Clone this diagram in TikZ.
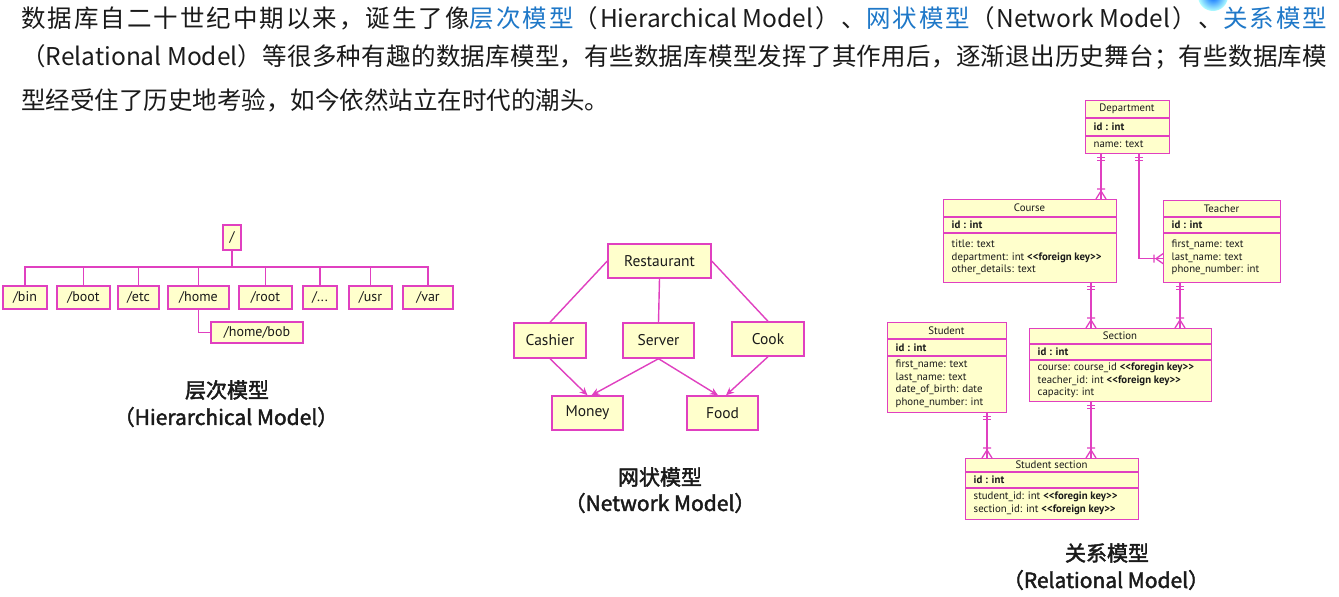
\documentclass[tikz,border=0pt]{standalone}
\usepackage{fontspec}
\setmainfont{Noto Sans CJK SC}
\newfontfamily\cjk{Noto Sans CJK SC}
\newfontfamily\capf{Noto Sans CJK SC}[FakeBold=2]
\newfontfamily\lab{PT Sans}
\usetikzlibrary{arrows.meta,calc}
\definecolor{mag}{HTML}{E040C0}
\definecolor{boxfill}{HTML}{FFFFCC}
\definecolor{blu}{HTML}{1F78C8}
\definecolor{txt}{HTML}{1A1A1A}
% stretchable glue between CJK characters (for justified lines)
\XeTeXinterchartokenstate=1
\newXeTeXintercharclass\mycjk
\newcount\cjkc
\cjkc="3000
\loop
  \XeTeXcharclass\cjkc=\mycjk
  \ifnum\cjkc<"9FFF \advance\cjkc by 1 \repeat
\cjkc="FF00
\loop
  \XeTeXcharclass\cjkc=\mycjk
  \ifnum\cjkc<"FFEF \advance\cjkc by 1 \repeat
\XeTeXinterchartoks\mycjk\mycjk={\hskip0pt plus 1fil\relax}
\XeTeXinterchartoks 0 \mycjk={\hskip0pt plus 1fil\relax}
\XeTeXinterchartoks\mycjk 0 ={\hskip0pt plus 1fil\relax}
\newcommand\ltlt{<\kern0pt<}
\newcommand\gtgt{>\kern0pt>}
\newcommand\fk{\textbf{\ltlt foreign key\gtgt}}
\newcommand\fkg{\textbf{\ltlt foregin key\gtgt}}
\newcommand\ertab[9]{%
  \node[etab, anchor=north west, minimum width={#4-#2}, minimum height={#5-#3}] (#1) at (#2,#3) {};
  \draw[esep] (#1.west |- 0,#6) -- (#1.east |- 0,#6);
  \draw[esep] (#1.west |- 0,#7) -- (#1.east |- 0,#7);
  \node[etext] (#1-h) at ({(#2+#4)/2},{(#3+#6)/2}) {#8};
  \node[etext, anchor=west] (#1-id) at ({#2+8.5},{(#6+#7)/2}) {\bfseries id : int};
  \node[etext, anchor=west, align=left] (#1-a) at ({#2+8.5},{(#7+#5)/2}) {#9};
}
\begin{document}
\begin{tikzpicture}[x=1pt,y=-1pt,
  mtext/.style={inner sep=0, text=txt, font=\cjk\fontsize{24.5}{28}\selectfont},
  captxt/.style={inner sep=0, text=txt, font=\capf\fontsize{21}{24}\selectfont},
  hbox/.style={draw=mag, fill=boxfill, line width=1.4pt, inner sep=0, text=txt, font=\lab\fontsize{14}{16}\selectfont},
  nbox/.style={draw=mag, fill=boxfill, line width=1.4pt, inner sep=0, text=txt, font=\lab\fontsize{15.5}{17}\selectfont},
  tline/.style={draw=mag, line width=1.4pt},
  narrow/.style={draw=mag, line width=1.4pt, -{Stealth[length=8pt,width=7pt]}},
  etab/.style={draw=mag, fill=boxfill, line width=1.3pt, inner sep=0},
  esep/.style={draw=mag, line width=1.1pt},
  etext/.style={inner sep=0, text=txt, font=\lab\fontsize{10.8}{12.5}\selectfont},
  erl/.style={draw=mag, line width=1.3pt},
  onedown/.pic={\draw[erl] (-4,3.5)--(4,3.5) (-4,6.5)--(4,6.5);},
  manyup/.pic={\draw[erl] (-4,-10)--(4,-10) (0,-8)--(-5,0) (0,-8)--(5,0);},
  manyleft/.pic={\draw[erl] (-9,-4)--(-9,4) (-7,0)--(0,-5) (-7,0)--(0,5);}
]
\useasboundingbox[fill=white] (0,0) rectangle (1339,597);

% ---------- intro text ----------
\node[mtext, anchor=west] (l1) at (21,18) {\hbox to 1306pt{数据库自二十世纪中期以来，诞生了像\textcolor{blu}{层次模型}（Hierarchical Model）、\textcolor{blu}{网状模型}（Network Model）、\textcolor{blu}{关系模型}}};
\node[mtext, anchor=west] (l2) at (21,57) {\hbox to 1306pt{（Relational Model）等很多种有趣的数据库模型，有些数据库模型发挥了其作用后，逐渐退出历史舞台；有些数据库模}};
\node[mtext, anchor=west] (l3) at (21,100) {型经受住了历史地考验，如今依然站立在时代的潮头。};
\shade[inner color=blue!60!cyan, outer color=cyan!30] (1213,-4) circle (15);

% ---------- hierarchical model ----------
\node[hbox, minimum width=18, minimum height=25] (root) at (232,237.5) {/};
\node[hbox, minimum width=44, minimum height=23] (bin) at (25,297.5) {/bin};
\node[hbox, minimum width=53, minimum height=23] (boot) at (83.5,297.5) {/boot};
\node[hbox, minimum width=41, minimum height=23] (etc) at (138.5,297.5) {/etc};
\node[hbox, minimum width=61, minimum height=23] (home) at (198.5,297.5) {/home};
\node[hbox, minimum width=53, minimum height=23] (rt) at (265.5,297.5) {/root};
\node[hbox, minimum width=34, minimum height=23] (dots) at (320,297.5) {/...};
\node[hbox, minimum width=43, minimum height=23] (usr) at (370.5,297.5) {/usr};
\node[hbox, minimum width=50, minimum height=23] (var) at (428,297.5) {/var};
\node[hbox, minimum width=92, minimum height=21] (bob) at (257,332.5) {/home/bob};
\coordinate (bus) at (root.south |- 0,267);
\foreach \c in {bin,boot,etc,home,rt,dots,usr,var}{
  \draw[tline] (root.south) -- (bus) -| (\c.north);
}
\draw[tline] (home.south) |- (bob.west);
\node[captxt] (hcap1) at (227,390) {层次模型};
\node[captxt] (hcap2) at (226,417) {（Hierarchical Model）};

% ---------- network model ----------
\node[nbox, minimum width=103, minimum height=34] (rest) at (659.5,261) {Restaurant};
\node[nbox, minimum width=72, minimum height=35] (cash) at (550,340.5) {Cashier};
\node[nbox, minimum width=71, minimum height=35] (serv) at (658.5,340.5) {Server};
\node[nbox, minimum width=72, minimum height=34] (cook) at (768,339) {Cook};
\node[nbox, minimum width=71, minimum height=34] (money) at (587.5,413) {Money};
\node[nbox, minimum width=71, minimum height=34] (food) at (722.5,413) {Food};
\draw[tline] (rest.west) -- (cash.north);
\draw[tline] (rest.south) -- (serv.north);
\draw[tline] (rest.east) -- (cook.north);
\draw[narrow] (cash.south) -- (money.north);
\draw[narrow] (serv.south) -- ([xshift=4pt]money.north);
\draw[narrow] (serv.south) -- ([xshift=-4.5pt]food.north);
\draw[narrow] (cook.south) -- ([xshift=3.5pt]food.north);
\node[captxt] (ncap1) at (660,477) {网状模型};
\node[captxt] (ncap2) at (660,503) {（Network Model）};

% ---------- relational model ----------
\ertab{dept}{1085}{100}{1169}{153}{118}{136}{Department}{name: text}
\ertab{course}{943}{199}{1116}{282}{217}{233}{Course}{title: text\\department: int \fk\\other\_details: text}
\ertab{teach}{1163}{200}{1280}{282}{217}{233}{Teacher}{first\_name: text\\last\_name: text\\phone\_number: int}
\ertab{stud}{887}{322}{1006}{412}{339}{356}{Student}{first\_name: text\\last\_name: text\\date\_of\_birth: date\\phone\_number: int}
\ertab{sect}{1029}{328}{1211}{401}{344}{360}{Section}{course: course\_id \fkg\\teacher\_id: int \fk\\capacity: int}
\ertab{ss}{965}{458}{1138}{519}{472}{488}{Student section}{student\_id: int \fkg\\section\_id: int \fk}

\coordinate (d1) at ([xshift=16pt]dept.south west);
\coordinate (c1) at (d1 |- course.north);
\draw[erl] (d1) -- (c1);
\pic at (d1) {onedown};
\pic at (c1) {manyup};

\coordinate (d2) at ([xshift=54pt]dept.south west);
\coordinate (t2) at ($(teach.west)+(0,17)$);
\draw[erl] (d2) |- (t2);
\pic at (d2) {onedown};
\pic at (t2) {manyleft};

\coordinate (c3) at ([xshift=148pt]course.south west);
\coordinate (s3) at (c3 |- sect.north);
\draw[erl] (c3) -- (s3);
\pic at (c3) {onedown};
\pic at (s3) {manyup};

\coordinate (t4) at ([xshift=17pt]teach.south west);
\coordinate (s4) at (t4 |- sect.north);
\draw[erl] (t4) -- (s4);
\pic at (t4) {onedown};
\pic at (s4) {manyup};

\coordinate (st5) at ([xshift=100pt]stud.south west);
\coordinate (ss5) at (st5 |- ss.north);
\draw[erl] (st5) -- (ss5);
\pic at (st5) {onedown};
\pic at (ss5) {manyup};

\coordinate (se6) at ([xshift=62pt]sect.south west);
\coordinate (ss6) at (se6 |- ss.north);
\draw[erl] (se6) -- (ss6);
\pic at (se6) {onedown};
\pic at (ss6) {manyup};

\node[captxt] (rcap1) at (1107,553) {关系模型};
\node[captxt] (rcap2) at (1106,580) {（Relational Model）};
\end{tikzpicture}
\end{document}
